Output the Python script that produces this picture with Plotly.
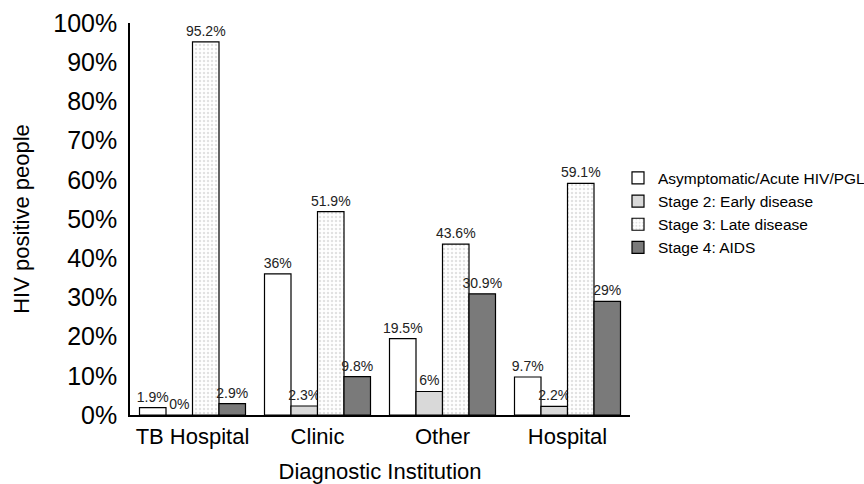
import plotly.graph_objects as go

# Share of HIV positive people by disease stage at each diagnostic institution
institutions = ["TB Hospital", "Clinic", "Other", "Hospital"]
asymptomatic = [1.9, 36, 19.5, 9.7]
stage2_early = [0, 2.3, 6, 2.2]
stage3_late = [95.2, 51.9, 43.6, 59.1]
stage4_aids = [2.9, 9.8, 30.9, 29]
series_names = [
    "Asymptomatic/Acute HIV/PGL",
    "Stage 2: Early disease",
    "Stage 3: Late disease",
    "Stage 4: AIDS",
]
y_ticks = list(range(0, 101, 10))

FONT = "Liberation Sans, Arial, sans-serif"

series = [
    (series_names[0], asymptomatic, dict(color="white")),
    (series_names[1], stage2_early, dict(color="#d9d9d9")),
    (series_names[2], stage3_late, dict(color="white",
                                        pattern=dict(shape=".", fgcolor="#c4c4c4",
                                                     bgcolor="white", size=4,
                                                     solidity=0.3))),
    (series_names[3], stage4_aids, dict(color="#7a7a7a")),
]

fig = go.Figure()
for name, vals, marker in series:
    fig.add_trace(go.Bar(
        name=name,
        x=institutions,
        y=vals,
        text=[f"{v:g}%" for v in vals],
        textposition="outside",
        constraintext="none",
        textfont=dict(family=FONT, size=14, color="#222"),
        cliponaxis=False,
        marker=dict(line=dict(color="black", width=1.2), **marker),
    ))

fig.update_layout(
    width=864,
    height=484,
    margin=dict(l=130, r=234, t=23, b=69, autoexpand=False),
    paper_bgcolor="white",
    plot_bgcolor="white",
    barmode="group",
    bargap=0.152,
    bargroupgap=0,
    font=dict(family=FONT, color="black"),
    showlegend=True,
    legend=dict(
        x=0.976,
        y=0.647,
        xanchor="left",
        yanchor="top",
        font=dict(family=FONT, size=15.5, color="black"),
        itemwidth=30,
        tracegroupgap=0,
        bgcolor="rgba(0,0,0,0)",
    ),
)

fig.update_xaxes(
    automargin=False,
    showline=True,
    linecolor="black",
    linewidth=1.5,
    showgrid=False,
    ticks="",
    ticklabelstandoff=1,
    tickfont=dict(family=FONT, size=22, color="black"),
    title=dict(text="Diagnostic Institution",
               font=dict(family=FONT, size=22, color="black"),
               standoff=15),
)

fig.update_yaxes(
    automargin=False,
    range=[0, 100],
    tickvals=y_ticks,
    ticktext=[f"{t}%" for t in y_ticks],
    showline=True,
    linecolor="black",
    linewidth=1.5,
    showgrid=False,
    zeroline=False,
    ticks="",
    ticklabelstandoff=6,
    tickfont=dict(family=FONT, size=25, color="black"),
    title=dict(text="HIV positive people",
               font=dict(family=FONT, size=22, color="black"),
               standoff=18),
)

fig.write_html("out.html")
